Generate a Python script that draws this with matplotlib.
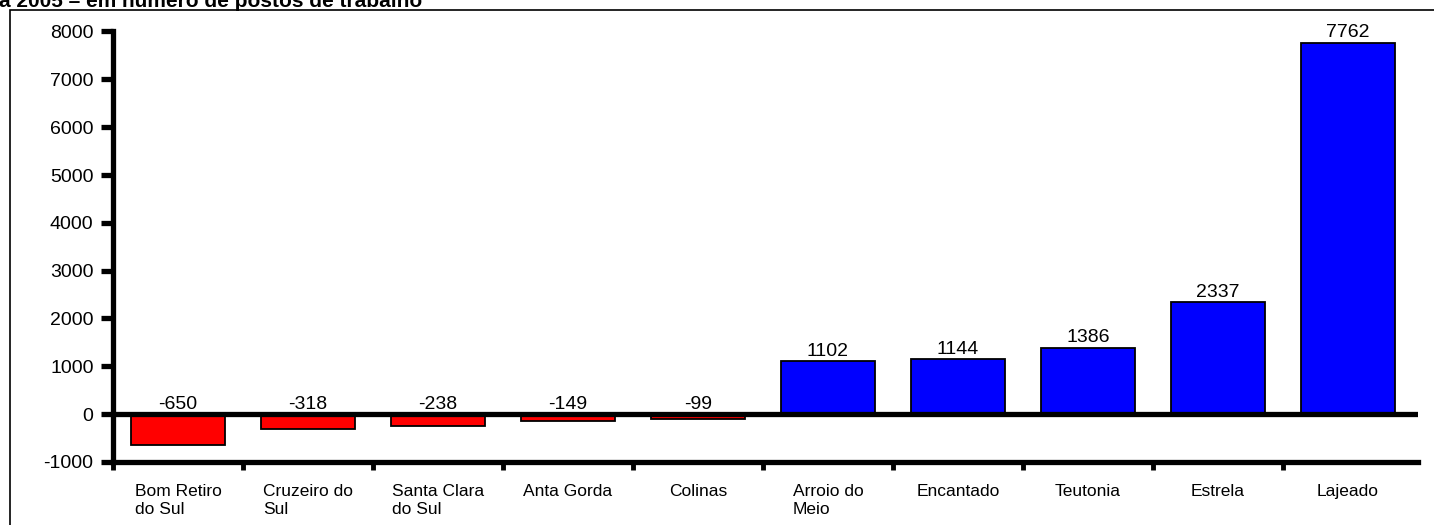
import matplotlib
matplotlib.use("Agg")
import matplotlib.pyplot as plt
from matplotlib.patches import Rectangle

plt.rcParams['font.family'] = ['Liberation Sans', 'DejaVu Sans']

municipios = ['Bom Retiro\ndo Sul', 'Cruzeiro do\nSul', 'Santa Clara\ndo Sul', 'Anta Gorda',
              'Colinas', 'Arroio do\nMeio', 'Encantado', 'Teutonia', 'Estrela', 'Lajeado']
saldo = [-650, -318, -238, -149, -99, 1102, 1144, 1386, 2337, 7762]
yticks = [-1000, 0, 1000, 2000, 3000, 4000, 5000, 6000, 7000, 8000]

fig = plt.figure(figsize=(14.34, 5.25), dpi=100)
ax = fig.add_axes([113 / 1434, 1 - 462 / 525, (1418 - 113) / 1434, (462 - 31.5) / 525])

# frame around the chart area (cut by the image edges)
fig.patches.append(Rectangle((10 / 1434, -0.2), 1.2, 1 - 10 / 525 + 0.2,
                             transform=fig.transFigure, fill=False, lw=1.2,
                             edgecolor='black', zorder=0))
fig.text(-0.001, 1 - 7 / 525, 'a 2005 – em número de postos de trabalho',
         fontsize=15, fontweight='bold', va='baseline', ha='left')

cores = ['#ff0000' if v < 0 else '#0000ff' for v in saldo]
x = list(range(len(saldo)))
ax.bar(x, saldo, width=0.72, color=cores, edgecolor='black', linewidth=1.3, zorder=2)
ax.axhline(0, color='black', lw=3.8, zorder=3)

for xi, v in zip(x, saldo):
    ax.annotate(str(v), (xi, max(v, 0)), xytext=(0, 1), textcoords='offset points',
                ha='center', va='bottom', fontsize=14, zorder=4)

ax.set_xlim(-0.5, 9.54)
ax.set_ylim(-1000, 8000)
ax.set_yticks(yticks)
ax.set_yticklabels([str(t) for t in yticks], fontsize=14)
ax.set_xticks(x)
ax.set_xticklabels(municipios, fontsize=12.5, multialignment='left', linespacing=1.2)
ax.set_xticks([i - 0.5 for i in range(10)], minor=True)
ax.tick_params(axis='x', which='major', length=0, pad=16)
ax.tick_params(axis='x', which='minor', length=6, width=3.5, direction='out')
ax.tick_params(axis='y', length=9, width=3.8, direction='out', pad=5)

for s in ['top', 'right']:
    ax.spines[s].set_visible(False)
for s in ['left', 'bottom']:
    ax.spines[s].set_linewidth(3.8)

fig.savefig('out.png', dpi=100)
